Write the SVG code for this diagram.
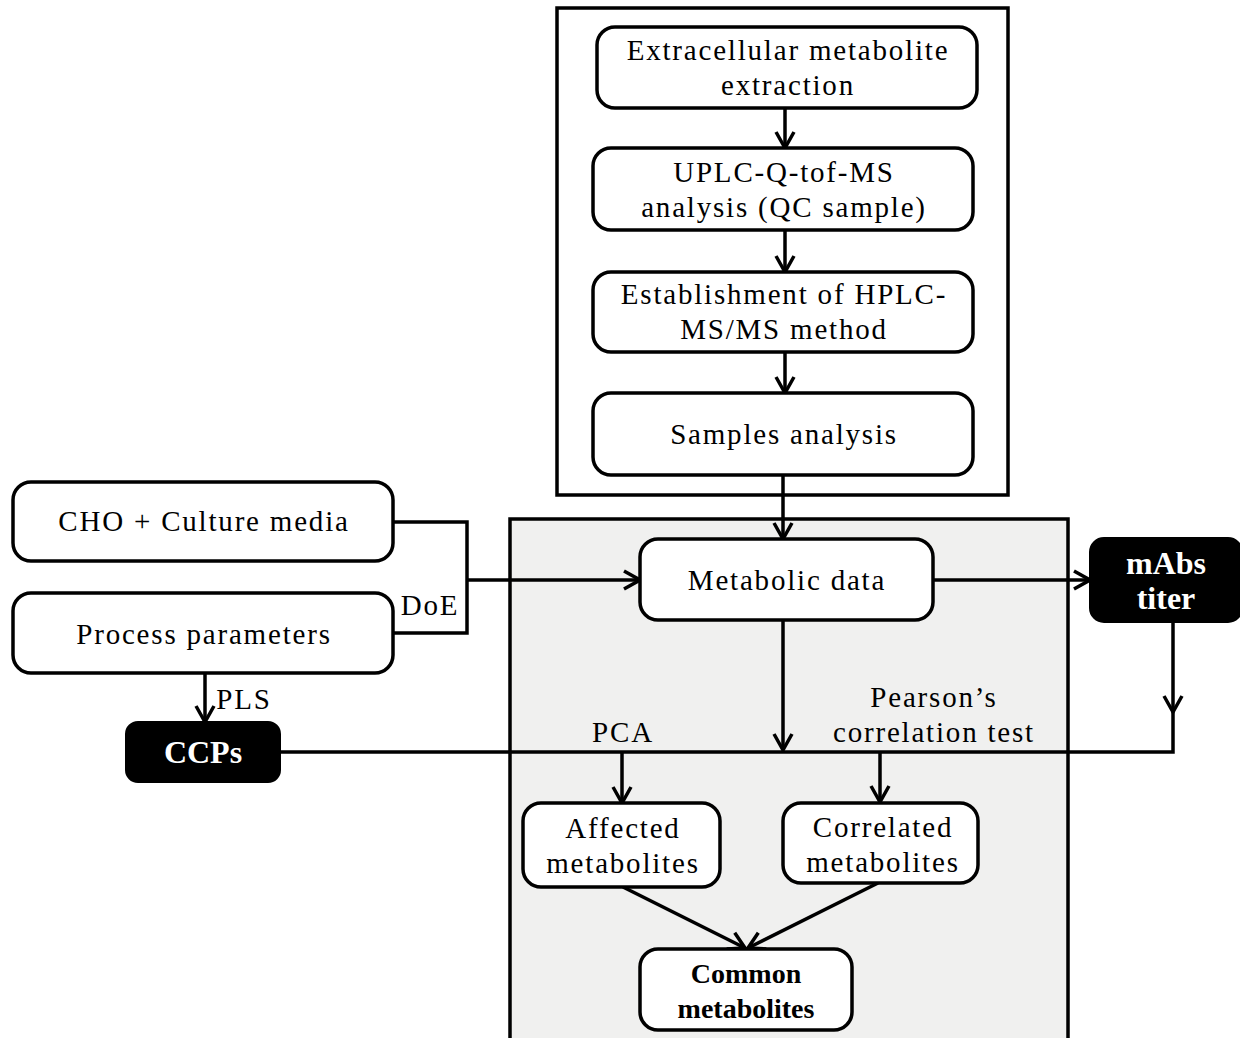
<svg xmlns="http://www.w3.org/2000/svg" width="1240" height="1038" viewBox="0 0 1240 1038">
<style>
.box{fill:#fff;stroke:#000;stroke-width:3.5}
.dark{fill:#000;stroke:#000;stroke-width:2}
.t{font-family:"Liberation Serif","Times New Roman",serif;font-size:29px;letter-spacing:1.8px;fill:#000;text-anchor:middle}
.b{font-weight:bold;letter-spacing:0;font-size:28px}
.w{fill:#fff;font-size:32px}
.c{fill:none;stroke:#000;stroke-width:3.5}
</style>
<defs>
<marker id="ah" viewBox="0 0 22 22" refX="20" refY="11" markerWidth="22" markerHeight="22" markerUnits="userSpaceOnUse" orient="auto">
<path d="M4,2 L20,11 L4,20" fill="none" stroke="#000" stroke-width="3.5"/>
</marker>
</defs>
<rect x="0" y="0" width="1240" height="1038" fill="#fff"/>
<g id="panel-top"><rect x="557" y="8" width="451" height="487" fill="#fff" stroke="#000" stroke-width="3.5"/></g>
<g id="panel-gray"><rect x="510" y="519" width="558" height="530" fill="#f0f0ef" stroke="#000" stroke-width="3.5"/></g>
<g id="connectors">
<path class="c" d="M785,108 L785,148" marker-end="url(#ah)"/>
<path class="c" d="M785,230 L785,272" marker-end="url(#ah)"/>
<path class="c" d="M785,352 L785,393" marker-end="url(#ah)"/>
<path class="c" d="M783,475 L783,539" marker-end="url(#ah)"/>
<path class="c" d="M393,522 L467,522 L467,633 L393,633"/>
<path class="c" d="M467,580 L640,580" marker-end="url(#ah)"/>
<path class="c" d="M933,580 L1090,580" marker-end="url(#ah)"/>
<path class="c" d="M1173,622 L1173,712" marker-end="url(#ah)"/>
<path class="c" d="M1173,710 L1173,752 L280,752"/>
<path class="c" d="M783,620 L783,750" marker-end="url(#ah)"/>
<path class="c" d="M205,673 L205,722" marker-end="url(#ah)"/>
<path class="c" d="M622,752 L622,803" marker-end="url(#ah)"/>
<path class="c" d="M880,752 L880,802" marker-end="url(#ah)"/>
<path class="c" d="M623,887 L745,948" marker-end="url(#ah)"/>
<path class="c" d="M878,883 L748,948" marker-end="url(#ah)"/>
</g>
<g id="n-extraction"><rect class="box" x="597" y="27" width="380" height="81" rx="18"/><text class="t" x="788" y="60">Extracellular metabolite</text><text class="t" x="788" y="95">extraction</text></g>
<g id="n-uplc"><rect class="box" x="593" y="148" width="380" height="82" rx="18"/><text class="t" x="784" y="182">UPLC-Q-tof-MS</text><text class="t" x="784" y="217">analysis (QC sample)</text></g>
<g id="n-hplc"><rect class="box" x="593" y="272" width="380" height="80" rx="18"/><text class="t" x="784" y="304">Establishment of HPLC-</text><text class="t" x="784" y="339">MS/MS method</text></g>
<g id="n-samples"><rect class="box" x="593" y="393" width="380" height="82" rx="18"/><text class="t" x="784" y="444">Samples analysis</text></g>
<g id="n-cho"><rect class="box" x="13" y="482" width="380" height="79" rx="18"/><text class="t" x="204" y="531">CHO + Culture media</text></g>
<g id="n-process"><rect class="box" x="13" y="593" width="380" height="80" rx="18"/><text class="t" x="204" y="644">Process parameters</text></g>
<g id="n-metabolic"><rect class="box" x="640" y="539" width="293" height="81" rx="18"/><text class="t" x="787" y="590">Metabolic data</text></g>
<g id="n-mabs"><rect class="dark" x="1090" y="538" width="152" height="84" rx="14"/><text class="t b w" x="1166" y="574">mAbs</text><text class="t b w" x="1166" y="609">titer</text></g>
<g id="n-ccps"><rect class="dark" x="126" y="722" width="154" height="60" rx="12"/><text class="t b w" x="203" y="763">CCPs</text></g>
<g id="n-affected"><rect class="box" x="523" y="803" width="197" height="84" rx="18"/><text class="t" x="623" y="838">Affected</text><text class="t" x="623" y="873">metabolites</text></g>
<g id="n-correlated"><rect class="box" x="783" y="803" width="195" height="80" rx="18"/><text class="t" x="883" y="837">Correlated</text><text class="t" x="883" y="872">metabolites</text></g>
<g id="n-common"><rect class="box" x="640" y="949" width="212" height="81" rx="18"/><text class="t b" x="746" y="983">Common</text><text class="t b" x="746" y="1018">metabolites</text></g>
<g id="labels">
<text class="t" x="430" y="615">DoE</text>
<text class="t" x="244" y="709">PLS</text>
<text class="t" x="623" y="742">PCA</text>
<text class="t" x="934" y="707">Pearson’s</text>
<text class="t" x="934" y="742">correlation test</text>
</g>
</svg>
